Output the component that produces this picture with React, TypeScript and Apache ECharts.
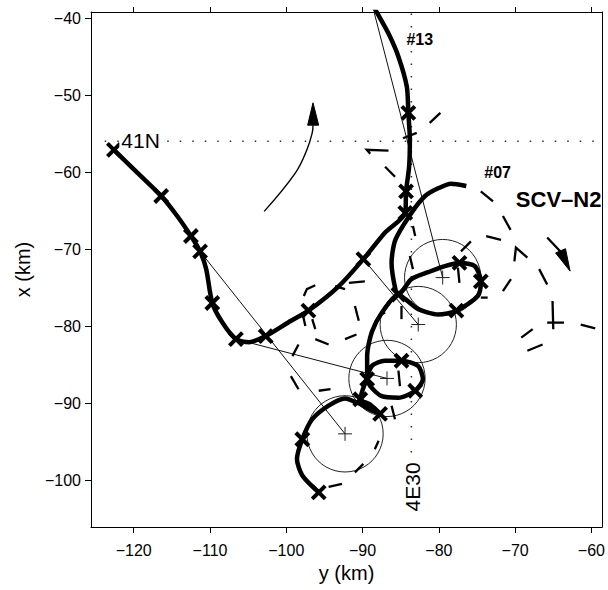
import React, { useEffect, useRef } from "react";
import * as echarts from "echarts";

// axis ticks (km)
const yKmTicks = [-120, -110, -100, -90, -80, -70, -60]; // horizontal axis "y (km)"
const xKmTicks = [-100, -90, -80, -70, -60, -50, -40]; // vertical axis "x (km)"

// thick float tracks, points as [y, x] in km
const trackA = [
  [-122.6, -57.1], [-119.5, -60.1], [-116.4, -63.1], [-114.3, -65.7], [-112.5, -68.3],
  [-111.3, -70.3], [-110.5, -72.6], [-109.7, -77.0], [-108.4, -79.5], [-106.6, -81.7],
  [-104.9, -82.1], [-102.7, -81.3], [-99.7, -79.5], [-97.1, -78.0], [-93.1, -74.8],
  [-89.9, -71.3], [-87.1, -67.9], [-84.4, -65.3], [-84.3, -62.5], [-83.9, -59.3],
  [-83.8, -55.8], [-84.0, -52.3], [-84.2, -48.9], [-85.3, -45.0], [-86.6, -42.0],
  [-88.1, -39.3], [-88.5, -38.6],
];
const trackB = [
  [-76.4, -61.8], [-78.4, -61.5], [-80.1, -62.1], [-81.8, -63.1], [-83.6, -65.3],
  [-85.7, -68.8], [-86.2, -71.8], [-85.7, -75.2], [-85.3, -75.9],
  [-83.6, -73.9], [-81.4, -73.0], [-79.2, -72.2], [-77.3, -71.8], [-75.3, -72.2],
  [-74.5, -74.2], [-74.9, -76.1], [-77.7, -78.0], [-80.1, -78.5], [-82.7, -77.8],
  [-84.4, -76.5], [-85.3, -75.9],
  [-87.5, -78.3], [-88.8, -80.8], [-89.4, -83.9], [-89.4, -86.9],
  [-89.0, -87.8], [-87.5, -89.1], [-85.3, -89.3], [-83.1, -88.4], [-82.1, -86.9],
  [-82.7, -85.2], [-84.9, -84.5], [-87.1, -84.5], [-88.8, -85.2], [-89.6, -87.2],
  [-90.3, -89.5], [-89.0, -90.2], [-87.7, -91.4], [-88.9, -90.9], [-90.6, -90.0],
  [-92.3, -89.4], [-94.4, -90.3], [-96.6, -92.1], [-97.9, -94.7], [-98.6, -97.3],
  [-97.9, -99.4], [-95.75, -101.6],
];
// "x" position fixes
const fixes = [
  [-122.6, -57.1], [-116.4, -63.1], [-112.5, -68.3], [-111.3, -70.3], [-109.7, -77.0],
  [-106.6, -81.7], [-102.7, -81.3], [-97.1, -78.0], [-89.9, -71.3], [-84.4, -65.3],
  [-84.3, -62.5], [-84.0, -52.3],
  [-85.3, -75.9], [-77.3, -71.8], [-74.5, -74.2], [-77.7, -78.0], [-89.4, -86.9],
  [-84.9, -84.5], [-83.1, -88.4], [-90.3, -89.5], [-87.7, -91.4], [-97.9, -94.7],
  [-95.75, -101.6],
];
// fitted circles [y, x, radius] (km)
const circles = [
  [-92.3, -94.0, 5], [-86.8, -86.8, 5], [-82.7, -79.8, 5], [-79.5, -73.7, 5],
];
// thin straight connectors
const thinLines = [
  [[-88.6, -38.8], [-79.5, -73.7]],
  [[-111.3, -70.3], [-92.3, -94.0]],
  [[-106.6, -81.7], [-86.8, -86.8]],
  [[-89.9, -71.3], [-82.7, -79.8]],
];
// dashed track pieces
const dashes = [
  [[-81.2, -53.6], [-79.8, -52.3]],
  [[-84.7, -55.6], [-82.9, -54.9]],
  [[-89.0, -57.6], [-89.45, -57.1], [-86.6, -57.2]],
  [[-87.05, -59.3], [-85.75, -60.6]],
  [[-74.5, -62.5], [-72.9, -63.8]],
  [[-71.6, -65.7], [-70.6, -67.5]],
  [[-73.8, -68.3], [-71.85, -68.8]],
  [[-70.1, -71.6], [-69.9, -69.8], [-68.4, -71.1]],
  [[-66.85, -72.6], [-65.8, -74.6]],
  [[-70.55, -73.9], [-71.6, -75.45]],
  [[-65.1, -76.75], [-65.0, -80.4]],
  [[-65.8, -79.55], [-63.6, -79.55]],
  [[-61.4, -79.8], [-59.5, -80.3]],
  [[-69.2, -81.5], [-67.7, -80.4]],
  [[-68.4, -83.2], [-66.4, -82.4]],
  [[-75.8, -69.0], [-77.1, -70.3]],
  [[-77.5, -72.4], [-77.3, -74.4]],
  [[-74.5, -76.3], [-73.6, -76.3]],
  [[-83.8, -70.9], [-83.4, -72.6]],
  [[-83.4, -67.0], [-83.1, -68.3]],
  [[-84.9, -77.4], [-84.9, -79.1]],
  [[-85.3, -85.8], [-85.1, -87.8]],
  [[-97.7, -76.1], [-97.3, -75.2], [-96.2, -74.7]],
  [[-93.6, -74.8], [-92.3, -75.2]],
  [[-91.8, -74.4], [-89.7, -74.2]],
  [[-97.9, -78.25], [-97.5, -80.0]],
  [[-96.6, -79.1], [-96.2, -80.4]],
  [[-96.2, -81.7], [-94.45, -82.4]],
  [[-92.3, -81.7], [-90.8, -81.1]],
  [[-91.0, -77.4], [-90.5, -79.3]],
  [[-87.9, -78.7], [-87.05, -78.25]],
  [[-99.2, -83.9], [-98.4, -82.4]],
  [[-99.4, -86.5], [-98.4, -88.2]],
  [[-95.75, -88.4], [-94.2, -88.2]],
  [[-86.2, -90.35], [-85.75, -92.1]],
  [[-87.9, -94.9], [-88.4, -96.0]],
  [[-89.9, -97.9], [-91.0, -99.0]],
  [[-94.45, -100.9], [-92.7, -100.5]],
  [[-65.8, -68.5], [-63.7, -70.7]],
];
// curved direction arrow (solid)
const arrowShaft = [
  [-102.9, -65.1], [-98.8, -60.1], [-97.3, -57.1], [-96.6, -54.9], [-96.5, -53.9],
];
// arrow heads: [tip, base1, base2]
const arrowHeads = [
  [[-96.5, -51.0], [-97.2, -53.9], [-95.75, -53.9]],
  [[-62.8, -72.86], [-64.7, -70.5], [-63.4, -69.95]],
];
const latLine = [[-123.8, -56.0], [-58.8, -56.0]];
const lonLine = [[-83.6, -39.4], [-83.6, -97.0]];
const labels = [
  { text: "41N", at: [-119.1, -55.9], size: 21, weight: "normal", rotate: 0, bg: true },
  { text: "#13", at: [-82.5, -42.75], size: 16, weight: "bold", rotate: 0, bg: true },
  { text: "#07", at: [-72.3, -60.0], size: 16, weight: "bold", rotate: 0, bg: false },
  { text: "SCV–N2", at: [-64.3, -63.5], size: 22, weight: "bold", rotate: 0, bg: false },
  { text: "4E30", at: [-83.5, -100.9], size: 21, weight: "normal", rotate: 90, bg: true },
];

const FONT = "'Liberation Sans', Arial, Helvetica, sans-serif";
const minus = (v: number) => String(v).replace("-", "\u2212");

export default function App() {
  const ref = useRef<HTMLDivElement>(null);
  useEffect(() => {
    if (!ref.current) return;
    const chart = echarts.init(ref.current, null, { renderer: "svg" });
    const lineSeries = (data: number[][], width: number, type: any, color: string, z: number, smooth: number | boolean = false) => ({
      type: "line",
      data,
      smooth,
      showSymbol: false,
      symbol: "none",
      clip: true,
      z,
      silent: true,
      lineStyle: { color, width, type, cap: "butt" },
    });
    const option: any = {
      animation: false,
      backgroundColor: "#fff",
      textStyle: { fontFamily: FONT },
      grid: { left: 91, right: 2, top: 12, bottom: 63, containLabel: false },
      xAxis: [
        {
          type: "value", min: -125.6, max: -58.6, position: "bottom",
          axisLine: { show: true, onZero: false, lineStyle: { color: "#000", width: 1 } },
          axisTick: { show: true, inside: false, length: 6, customValues: yKmTicks, lineStyle: { color: "#000" } },
          axisLabel: { show: true, customValues: yKmTicks, formatter: minus, fontSize: 16, color: "#000", margin: 15, fontFamily: FONT },
          splitLine: { show: false },
          name: "y (km)", nameLocation: "middle", nameGap: 34,
          nameTextStyle: { fontSize: 20, color: "#000", fontFamily: FONT },
        },
        {
          type: "value", min: -125.6, max: -58.6, position: "top",
          axisLine: { show: true, onZero: false, lineStyle: { color: "#000", width: 1 } },
          axisTick: { show: true, inside: false, length: 5, customValues: yKmTicks, lineStyle: { color: "#000" } },
          axisLabel: { show: false },
          splitLine: { show: false },
        },
      ],
      yAxis: [
        {
          type: "value", min: -106.1, max: -39.2, position: "left",
          axisLine: { show: true, onZero: false, lineStyle: { color: "#000", width: 1 } },
          axisTick: { show: true, inside: false, length: 6, customValues: xKmTicks, lineStyle: { color: "#000" } },
          axisLabel: { show: true, customValues: xKmTicks, formatter: minus, fontSize: 16, color: "#000", margin: 10, fontFamily: FONT },
          splitLine: { show: false },
          name: "x (km)", nameLocation: "middle", nameGap: 58, nameRotate: 90,
          nameTextStyle: { fontSize: 20, color: "#000", fontFamily: FONT },
        },
        {
          type: "value", min: -106.1, max: -39.2, position: "right",
          axisLine: { show: true, onZero: false, lineStyle: { color: "#000", width: 1 } },
          axisTick: { show: false },
          axisLabel: { show: false },
          splitLine: { show: false },
        },
      ],
      series: [
        lineSeries(latLine, 1.5, [1.5, 11], "#333", 1),
        lineSeries(lonLine, 1.5, [1.5, 11], "#333", 1),
        {
          type: "custom", coordinateSystem: "cartesian2d", z: 2, silent: true, clip: true,
          data: circles.map((c) => [c[0], c[1]]),
          renderItem: (params: any, api: any) => {
            const c = circles[params.dataIndex];
            const p = api.coord([c[0], c[1]]);
            const r = api.size([c[2], 0])[0];
            const s = 7;
            const st = { stroke: "#222", lineWidth: 1, fill: null };
            return {
              type: "group",
              children: [
                { type: "circle", shape: { cx: p[0], cy: p[1], r }, style: st },
                { type: "line", shape: { x1: p[0] - s, y1: p[1], x2: p[0] + s, y2: p[1] }, style: st },
                { type: "line", shape: { x1: p[0], y1: p[1] - s, x2: p[0], y2: p[1] + s }, style: st },
              ],
            };
          },
        },
        {
          type: "custom", coordinateSystem: "cartesian2d", z: 3, silent: true, clip: true,
          data: thinLines.map((l) => l[0]),
          renderItem: (params: any, api: any) => {
            const pts = thinLines[params.dataIndex].map((p) => api.coord(p));
            return { type: "polyline", shape: { points: pts }, style: { stroke: "#111", lineWidth: 1, fill: null } };
          },
        },
        {
          type: "custom", coordinateSystem: "cartesian2d", z: 4, silent: true, clip: true,
          data: dashes.map((d) => d[0]),
          renderItem: (params: any, api: any) => {
            const pts = dashes[params.dataIndex].map((p) => api.coord(p));
            return { type: "polyline", shape: { points: pts }, style: { stroke: "#000", lineWidth: 2.3, fill: null, lineCap: "butt" } };
          },
        },
        lineSeries(arrowShaft, 1.4, "solid", "#000", 4, 0.4),
        {
          type: "custom", coordinateSystem: "cartesian2d", z: 5, silent: true,
          data: arrowHeads.map((h) => h[0]),
          renderItem: (params: any, api: any) => {
            const pts = arrowHeads[params.dataIndex].map((p) => api.coord(p));
            return { type: "polygon", shape: { points: pts }, style: { fill: "#000", stroke: "#000", lineWidth: 1 } };
          },
        },
        lineSeries(trackA, 4.5, "solid", "#000", 6, 0.25),
        lineSeries(trackB, 4.5, "solid", "#000", 6, 0.25),
        {
          type: "custom", coordinateSystem: "cartesian2d", z: 7, silent: true,
          data: fixes,
          renderItem: (params: any, api: any) => {
            const p = api.coord(fixes[params.dataIndex]);
            const s = 6.5;
            const st = { stroke: "#000", lineWidth: 4, lineCap: "butt" };
            return {
              type: "group",
              children: [
                { type: "line", shape: { x1: p[0] - s, y1: p[1] - s, x2: p[0] + s, y2: p[1] + s }, style: st },
                { type: "line", shape: { x1: p[0] - s, y1: p[1] + s, x2: p[0] + s, y2: p[1] - s }, style: st },
              ],
            };
          },
        },
        {
          type: "custom", coordinateSystem: "cartesian2d", z: 8, silent: true,
          data: labels.map((l) => l.at),
          renderItem: (params: any, api: any) => {
            const l = labels[params.dataIndex];
            const p = api.coord(l.at);
            return {
              type: "text", x: p[0], y: p[1], rotation: (l.rotate * Math.PI) / 180,
              style: {
                text: l.text, fontSize: l.size, fontWeight: l.weight, fontFamily: FONT,
                fill: "#000", align: "center", verticalAlign: "middle",
                backgroundColor: l.bg ? "#fff" : "transparent", padding: l.bg ? [0, 2] : 0,
              },
            };
          },
        },
      ],
    };
    chart.setOption(option);
    return () => chart.dispose();
  }, []);
  return (
    <div
      ref={ref}
      style={{ position: "fixed", left: 0, top: 0, width: 608, height: 590, background: "#fff" }}
    />
  );
}
